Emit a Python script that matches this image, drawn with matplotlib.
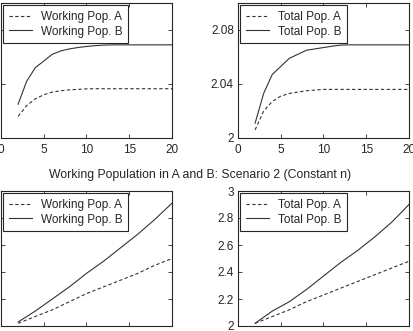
import matplotlib
matplotlib.use('Agg')
import matplotlib.pyplot as plt

plt.rcParams['font.family'] = ['Liberation Sans', 'DejaVu Sans']
plt.rcParams['font.size'] = 8.5

# steady-state scenario (top row)
x_top = [2, 3, 4, 5, 6, 7, 8, 9, 10, 11, 12, 13, 14, 15, 16, 17, 18, 19, 20]
working_a_top = [2.016, 2.024, 2.029, 2.032, 2.034, 2.035, 2.0357, 2.036, 2.0364, 2.0365,
                 2.0365, 2.0365, 2.0365, 2.0365, 2.0365, 2.0365, 2.0365, 2.0365, 2.0365]
working_b_top = [2.025, 2.042, 2.052, 2.057, 2.062, 2.0645, 2.066, 2.067, 2.0678, 2.0684,
                 2.0688, 2.069, 2.069, 2.069, 2.069, 2.069, 2.069, 2.069, 2.069]
total_a_top = [2.006, 2.020, 2.027, 2.031, 2.033, 2.034, 2.035, 2.0355, 2.036, 2.036,
               2.036, 2.036, 2.036, 2.036, 2.036, 2.036, 2.036, 2.036, 2.036]
total_b_top = [2.011, 2.033, 2.047, 2.053, 2.059, 2.062, 2.065, 2.066, 2.067, 2.068,
               2.0688, 2.069, 2.069, 2.069, 2.069, 2.069, 2.069, 2.069, 2.069]

# scenario 2, constant n (bottom row)
x_bot = [2, 4, 6, 8, 10, 12, 14, 16, 18, 20]
working_a_bot = [2.02, 2.07, 2.12, 2.18, 2.24, 2.29, 2.34, 2.39, 2.45, 2.50]
working_b_bot = [2.03, 2.11, 2.20, 2.29, 2.39, 2.48, 2.58, 2.68, 2.79, 2.91]
total_a_bot = [2.02, 2.07, 2.12, 2.18, 2.23, 2.28, 2.33, 2.38, 2.43, 2.48]
total_b_bot = [2.02, 2.11, 2.18, 2.27, 2.37, 2.47, 2.56, 2.66, 2.77, 2.90]

title_mid = 'Working Population in A and B: Scenario 2 (Constant n)'

W, H = 414, 331
fig = plt.figure(figsize=(W / 100, H / 100), dpi=100)
fig.patch.set_facecolor('white')

ink = '#262626'
line_col = '#333333'


def make_axes(left, top, right, bottom):
    return fig.add_axes([left / W, 1 - bottom / H, (right - left) / W, (bottom - top) / H])


def style(ax, ylim, yticks):
    ax.set_xlim(0, 20)
    ax.set_ylim(*ylim)
    ax.set_xticks([0, 5, 10, 15, 20])
    ax.set_yticks(yticks)
    ax.set_yticklabels(['%g' % t for t in yticks])
    ax.tick_params(direction='in', length=3, width=0.6, colors=ink, labelsize=8.5,
                   top=True, right=True, pad=3)
    ax.tick_params(axis='x', pad=4.5)
    for s in ax.spines.values():
        s.set_color(ink)
        s.set_linewidth(0.8)


def add_lines(ax, x, ya, yb, labels):
    ax.plot(x, ya, color=line_col, lw=0.8, dashes=(3, 2.2), label=labels[0])
    ax.plot(x, yb, color=line_col, lw=0.8, label=labels[1])
    leg = ax.legend(loc='upper left', borderaxespad=0.2, handlelength=2.0,
                    handletextpad=0.75, borderpad=0.45, labelspacing=0.25,
                    fancybox=False, framealpha=1, fontsize=8.5)
    leg.get_frame().set_edgecolor(ink)
    leg.get_frame().set_linewidth(0.8)
    for t in leg.get_texts():
        t.set_color(ink)


ax1 = make_axes(1, 3, 172, 138)
add_lines(ax1, x_top, working_a_top, working_b_top, ['Working Pop. A', 'Working Pop. B'])
style(ax1, (2, 2.1), [2, 2.04, 2.08])

ax2 = make_axes(238, 3, 409, 138)
add_lines(ax2, x_top, total_a_top, total_b_top, ['Total Pop. A', 'Total Pop. B'])
style(ax2, (2, 2.1), [2, 2.04, 2.08])

ax3 = make_axes(1, 191, 172, 326)
add_lines(ax3, x_bot, working_a_bot, working_b_bot, ['Working Pop. A', 'Working Pop. B'])
style(ax3, (2, 3), [2, 2.2, 2.4, 2.6, 2.8, 3])

ax4 = make_axes(238, 191, 409, 326)
add_lines(ax4, x_bot, total_a_bot, total_b_bot, ['Total Pop. A', 'Total Pop. B'])
style(ax4, (2, 3), [2, 2.2, 2.4, 2.6, 2.8, 3])

fig.text(200 / W, 1 - 175 / H, title_mid, ha='center', va='center', fontsize=8.8, color=ink)

fig.savefig('out.png', dpi=100, facecolor='white')
